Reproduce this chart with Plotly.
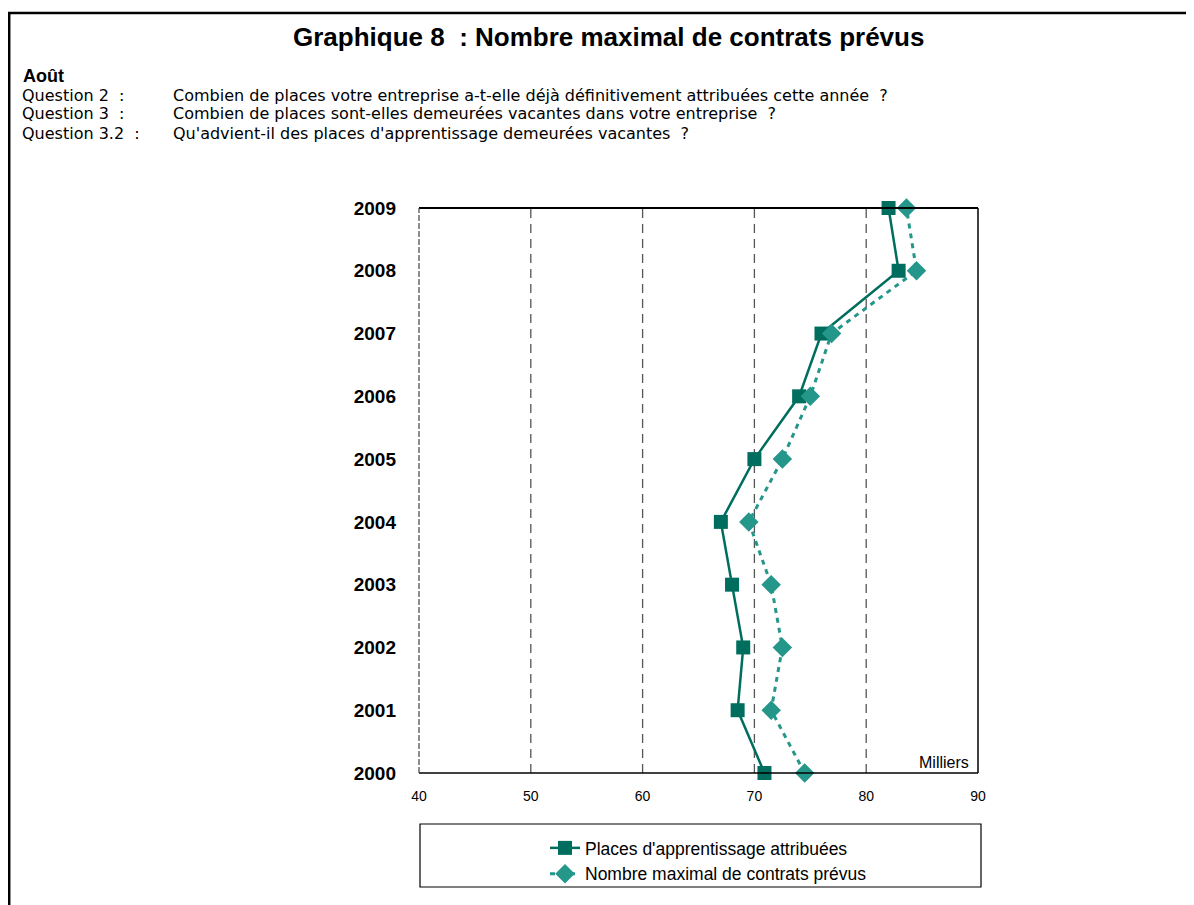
import plotly.graph_objects as go

years = [2000, 2001, 2002, 2003, 2004, 2005, 2006, 2007, 2008, 2009]
places_attribuees = [70.9, 68.5, 69.0, 68.0, 67.0, 70.0, 74.0, 76.0, 82.9, 82.0]
contrats_prevus = [74.5, 71.5, 72.5, 71.5, 69.5, 72.5, 75.0, 76.9, 84.5, 83.6]
x_ticks = [40, 50, 60, 70, 80, 90]
series_names = ["Places d'apprentissage attribuées", "Nombre maximal de contrats prévus"]

# page offset (body margin) of 8px
OFF = 8
W, H = 1194 - OFF, 905 - OFF
L, R, T, B = 419, 978, 208, 773  # plot area in screenshot pixels
FONT = "Liberation Sans, Arial, Helvetica, sans-serif"
QFONT = "DejaVu Sans, Liberation Sans, sans-serif"

def px(x):
    return (x - L) / (R - L)

def py(y):
    return (B - y) / (B - T)

fig = go.Figure()
fig.add_trace(go.Scatter(
    x=places_attribuees, y=years, name=series_names[0], mode="lines+markers",
    line=dict(color="#006e5e", width=2.5),
    marker=dict(symbol="square", size=14, color="#006e5e"),
    cliponaxis=False, legendgroup="a"))
fig.add_trace(go.Scatter(
    x=contrats_prevus, y=years, name=series_names[1], mode="lines+markers",
    line=dict(color="#25968a", width=3, dash="5px,5px"),
    marker=dict(symbol="diamond", size=15, color="#25968a"),
    cliponaxis=False, legendgroup="b"))

shapes = []
# outer frame (top and left)
shapes.append(dict(type="line", xref="paper", yref="paper", x0=px(8), x1=px(1210), y0=py(13), y1=py(13),
                   line=dict(color="black", width=2.5)))
shapes.append(dict(type="line", xref="paper", yref="paper", x0=px(9.2), x1=px(9.2), y0=py(12), y1=py(920),
                   line=dict(color="black", width=2.5)))
# plot borders
shapes.append(dict(type="line", xref="paper", yref="paper", x0=0, x1=1, y0=1, y1=1, line=dict(color="black", width=2)))
shapes.append(dict(type="line", xref="paper", yref="paper", x0=1, x1=1, y0=0, y1=1, line=dict(color="black", width=1.5)))
shapes.append(dict(type="line", xref="paper", yref="paper", x0=0, x1=1, y0=0, y1=0, line=dict(color="black", width=1.5)))
shapes.append(dict(type="line", xref="paper", yref="paper", x0=0, x1=0, y0=0, y1=1,
                   line=dict(color="#444", width=1.2, dash="6px,2px")))
# dashed gridlines
for v in x_ticks[1:-1]:
    shapes.append(dict(type="line", xref="x", yref="paper", x0=v, x1=v, y0=0, y1=1,
                       line=dict(color="#555", width=1.3, dash="9px,6px"), layer="below"))
# legend box
shapes.append(dict(type="rect", xref="paper", yref="paper", x0=px(420), x1=px(981), y0=py(824), y1=py(887),
                   line=dict(color="black", width=1.2)))

annotations = [
    dict(text="<b>Graphique 8  : Nombre maximal de contrats prévus</b>", x=px(608), y=py(37),
         xref="paper", yref="paper", showarrow=False, font=dict(size=26, color="black", family=FONT),
         xanchor="center", yanchor="middle"),
    dict(text="<b>Août</b>", x=px(21), y=py(76), xref="paper", yref="paper", showarrow=False,
         font=dict(size=18, color="black", family=FONT), xanchor="left", yanchor="middle"),
    dict(text="Milliers", x=px(971), y=py(762), xref="paper", yref="paper", showarrow=False,
         font=dict(size=16, color="black", family=FONT), xanchor="right", yanchor="middle"),
]
q_labels = ["Question 2  :", "Question 3  :", "Question 3.2  :"]
q_texts = ["Combien de places votre entreprise a-t-elle déjà définitivement attribuées cette année  ?",
           "Combien de places sont-elles demeurées vacantes dans votre entreprise  ?",
           "Qu'advient-il des places d'apprentissage demeurées vacantes  ?"]
for i, (a, b) in enumerate(zip(q_labels, q_texts)):
    yy = 95 + 19 * i
    annotations.append(dict(text=a, x=px(21), y=py(yy), xref="paper", yref="paper", showarrow=False,
                            font=dict(size=16, color="black", family=QFONT), xanchor="left", yanchor="middle",
                            borderpad=0))
    annotations.append(dict(text=b, x=px(172), y=py(yy), xref="paper", yref="paper", showarrow=False,
                            font=dict(size=16, color="black", family=QFONT), xanchor="left", yanchor="middle",
                            borderpad=0))

fig.update_layout(
    width=W, height=H,
    margin=dict(l=L - OFF, r=1194 - R, t=T - OFF, b=905 - B, pad=0),
    paper_bgcolor="white", plot_bgcolor="white",
    font=dict(family=FONT, color="black"),
    showlegend=True,
    legend=dict(x=px(545), y=py(830), xanchor="left", yanchor="top", bgcolor="rgba(0,0,0,0)",
                font=dict(size=17.5, family=FONT), tracegroupgap=2, traceorder="normal"),
    xaxis=dict(range=[40, 90], tickvals=x_ticks, showgrid=False, zeroline=False, showline=False,
               ticks="", tickfont=dict(size=14, family=FONT), ticklabelstandoff=13),
    yaxis=dict(range=[2000, 2009], tickvals=years, ticktext=[f"<b>{y}</b>" for y in years],
               showgrid=False, zeroline=False, showline=False, ticks="",
               tickfont=dict(size=19, family=FONT), ticklabelstandoff=22),
    shapes=shapes, annotations=annotations,
)
fig.write_html("out.html")
